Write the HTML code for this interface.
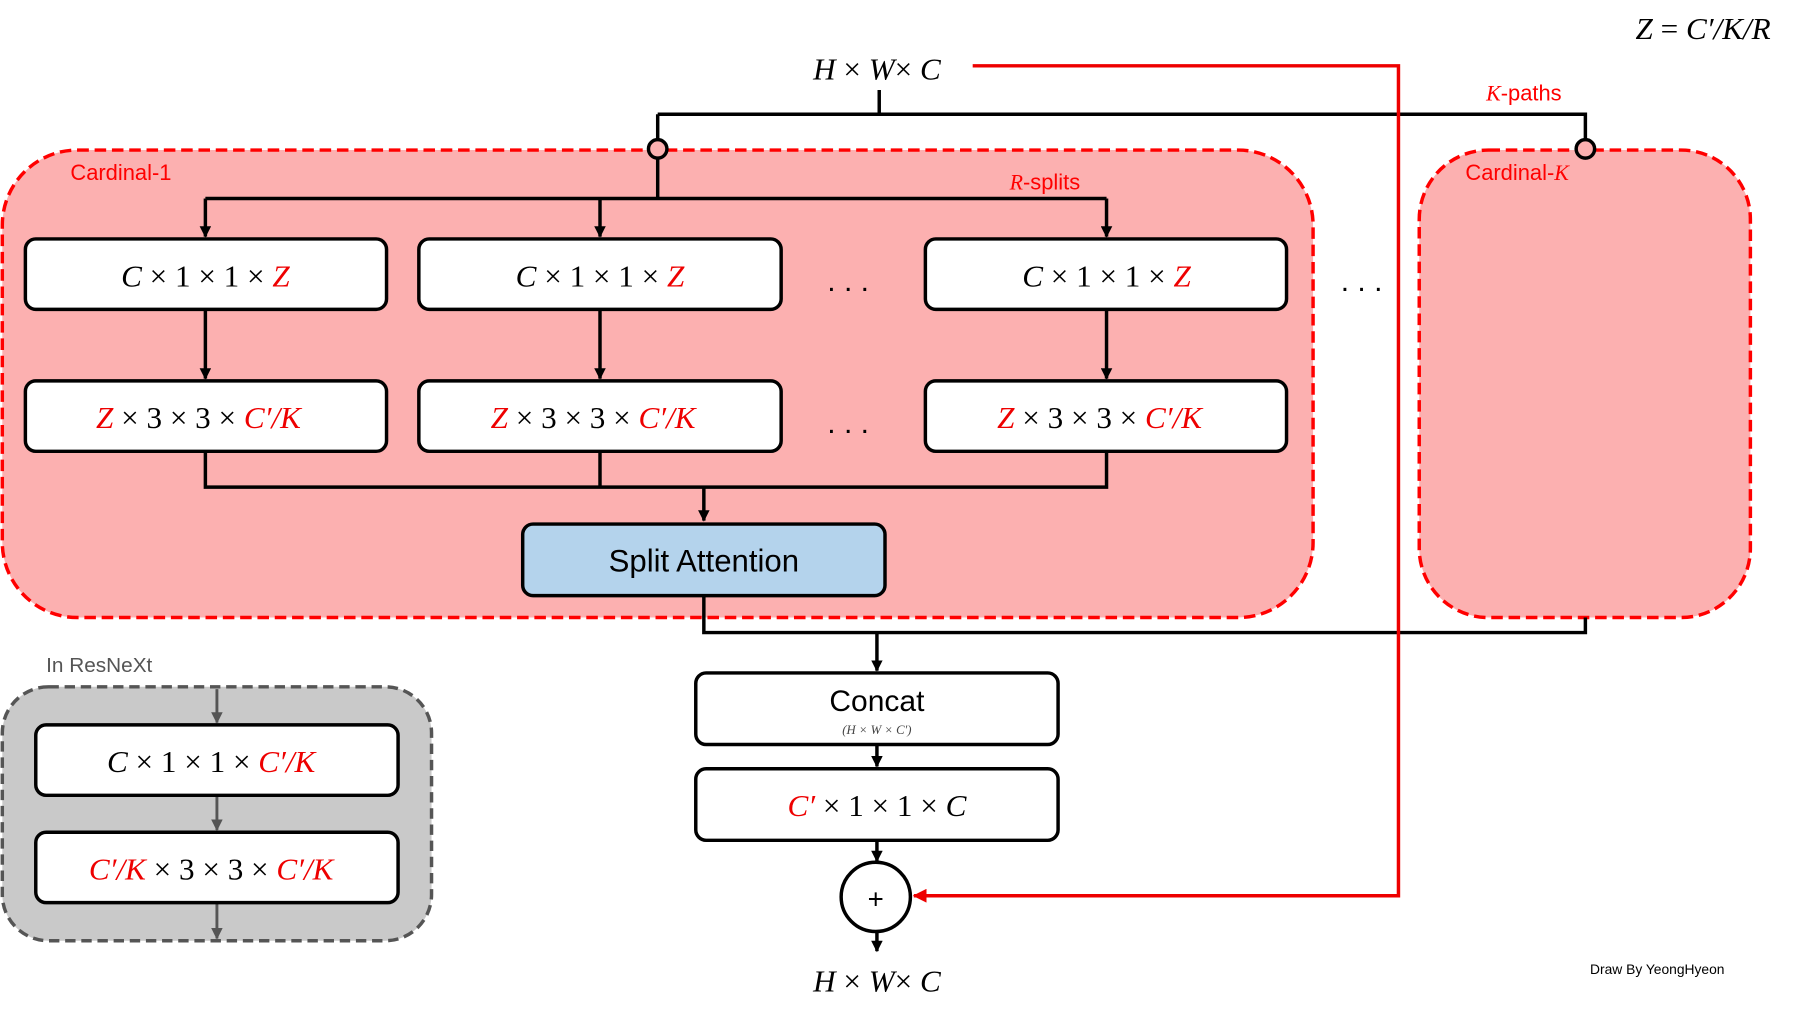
<!DOCTYPE html>
<html><head><meta charset="utf-8"><style>
html,body{margin:0;padding:0;background:#fff;}
svg{display:block}
.m{font-family:"Liberation Serif",serif;font-style:italic;}
.n{font-family:"Liberation Serif",serif;font-style:normal;}
.s{font-family:"Liberation Sans",sans-serif;}
</style></head><body>
<svg width="1800" height="1010" viewBox="0 0 1560 875" preserveAspectRatio="none" xmlns="http://www.w3.org/2000/svg">
<defs>
<marker id="a" markerWidth="10" markerHeight="10" refX="5" refY="8" orient="auto" markerUnits="userSpaceOnUse" viewBox="0 0 10 10"><path d="M0,0 L10,0 L5,10 z" fill="#000" transform="rotate(0)"/></marker>
<marker id="ad" markerWidth="10" markerHeight="10" refX="9" refY="5" orient="auto" markerUnits="userSpaceOnUse" viewBox="0 0 10 10"><path d="M0,0 L10,5 L0,10 z" fill="#000"/></marker>
<marker id="ag" markerWidth="10" markerHeight="10" refX="9" refY="5" orient="auto" markerUnits="userSpaceOnUse" viewBox="0 0 10 10"><path d="M0,0 L10,5 L0,10 z" fill="#555"/></marker>
<marker id="ar" markerWidth="12" markerHeight="12" refX="11" refY="6" orient="auto" markerUnits="userSpaceOnUse" viewBox="0 0 12 12"><path d="M0,0 L12,6 L0,12 z" fill="#e00"/></marker>
</defs>

<!-- cardinal boxes -->
<rect x="2" y="130" width="1136" height="405" rx="65" fill="#fcb0b0" stroke="#f00" stroke-width="3" stroke-dasharray="10,5"/>
<rect x="1230" y="130" width="287" height="405" rx="60" fill="#fcb0b0" stroke="#f00" stroke-width="3" stroke-dasharray="10,5"/>
<text x="61" y="156" class="s" font-size="19" fill="#f00">Cardinal-1</text>
<text x="1270" y="156" class="s" font-size="19" fill="#f00">Cardinal-<tspan class="m">K</tspan></text>
<text x="875" y="164" class="s" font-size="19" fill="#f00"><tspan class="m">R</tspan>-splits</text>
<text x="1288" y="87" class="s" font-size="19" fill="#f00"><tspan class="m">K</tspan>-paths</text>

<!-- top connectors -->
<g stroke="#000" stroke-width="3" fill="none">
<path d="M762,78 V99 M570,99 H1374 V121 M570,99 V121 M570,137 V172 M178,172 H959"/>
<path d="M178,172 V205" marker-end="url(#ad)"/>
<path d="M520,172 V205" marker-end="url(#ad)"/>
<path d="M959,172 V205" marker-end="url(#ad)"/>
<path d="M178,268 V328" marker-end="url(#ad)"/>
<path d="M520,268 V328" marker-end="url(#ad)"/>
<path d="M959,268 V328" marker-end="url(#ad)"/>
<path d="M178,391 V422 H959 V391 M520,391 V422"/>
<path d="M610,422 V451" marker-end="url(#ad)"/>
<path d="M610,516 V548 H1374 V535"/>
<path d="M760,548 V581" marker-end="url(#ad)"/>
<path d="M760,645 V664" marker-end="url(#ad)"/>
<path d="M760,728 V746" marker-end="url(#ad)"/>
<path d="M760,807 V824" marker-end="url(#ad)"/>
</g>
<circle cx="570" cy="129" r="8" fill="#fcb0b0" stroke="#000" stroke-width="3"/>
<circle cx="1374" cy="129" r="8" fill="#fcb0b0" stroke="#000" stroke-width="3"/>

<!-- red skip -->
<path d="M843,57 H1212 V776 H792" stroke="#e00" stroke-width="3" fill="none" marker-end="url(#ar)"/>

<!-- boxes -->
<g fill="#fff" stroke="#000" stroke-width="3">
<rect x="22" y="207" width="313" height="61" rx="9"/>
<rect x="363" y="207" width="314" height="61" rx="9"/>
<rect x="802" y="207" width="313" height="61" rx="9"/>
<rect x="22" y="330" width="313" height="61" rx="9"/>
<rect x="363" y="330" width="314" height="61" rx="9"/>
<rect x="802" y="330" width="313" height="61" rx="9"/>
<rect x="453" y="454" width="314" height="62" rx="9" fill="#b4d3ec"/>
<rect x="603" y="583" width="314" height="62" rx="9"/>
<rect x="603" y="666" width="314" height="62" rx="9"/>
<circle cx="759" cy="777" r="30"/>
</g>

<g font-size="27" text-anchor="middle">
<text x="178" y="248" class="m">C <tspan class="n">× 1 × 1 ×</tspan> <tspan fill="#e00">Z</tspan></text>
<text x="520" y="248" class="m">C <tspan class="n">× 1 × 1 ×</tspan> <tspan fill="#e00">Z</tspan></text>
<text x="959" y="248" class="m">C <tspan class="n">× 1 × 1 ×</tspan> <tspan fill="#e00">Z</tspan></text>
<text x="172" y="371" class="m"><tspan fill="#e00">Z</tspan> <tspan class="n">× 3 × 3 ×</tspan> <tspan fill="#e00">C′/K</tspan></text>
<text x="514" y="371" class="m"><tspan fill="#e00">Z</tspan> <tspan class="n">× 3 × 3 ×</tspan> <tspan fill="#e00">C′/K</tspan></text>
<text x="953" y="371" class="m"><tspan fill="#e00">Z</tspan> <tspan class="n">× 3 × 3 ×</tspan> <tspan fill="#e00">C′/K</tspan></text>
<text x="610" y="495" class="s" font-size="27">Split Attention</text>
<text x="760" y="616" class="s" font-size="26">Concat</text>
<text x="760" y="707" class="m"><tspan fill="#e00">C′</tspan> <tspan class="n">× 1 × 1 ×</tspan> C</text>
<text x="759" y="787" class="s" font-size="24">+</text>
<text x="760" y="69" class="m">H <tspan class="n">×</tspan> W<tspan class="n">×</tspan> C</text>
<text x="760" y="859" class="m">H <tspan class="n">×</tspan> W<tspan class="n">×</tspan> C</text>
</g>
<text x="760" y="636" class="m" font-size="11" text-anchor="middle" fill="#444">(H × W × C′)</text>
<text x="1476" y="34" class="m" font-size="27" text-anchor="middle">Z <tspan class="n">=</tspan> C′/K/R</text>

<g font-size="26" class="s">
<text x="717" y="252">. . .</text>
<text x="717" y="375">. . .</text>
<text x="1162" y="252">. . .</text>
</g>

<!-- ResNeXt -->
<text x="40" y="582" class="s" font-size="18" fill="#555">In ResNeXt</text>
<rect x="2" y="595" width="372" height="220" rx="40" fill="#c9c9c9" stroke="#555" stroke-width="3" stroke-dasharray="9,5"/>
<g stroke="#555" stroke-width="2.5" fill="none">
<path d="M188,597 V626" marker-end="url(#ag)"/>
<path d="M188,689 V719" marker-end="url(#ag)"/>
<path d="M188,782 V813" marker-end="url(#ag)"/>
</g>
<g fill="#fff" stroke="#000" stroke-width="3">
<rect x="31" y="628" width="314" height="61" rx="9"/>
<rect x="31" y="721" width="314" height="61" rx="9"/>
</g>
<g font-size="27" text-anchor="middle">
<text x="183" y="669" class="m">C <tspan class="n">× 1 × 1 ×</tspan> <tspan fill="#e00">C′/K</tspan></text>
<text x="183" y="762" class="m"><tspan fill="#e00">C′/K</tspan> <tspan class="n">× 3 × 3 ×</tspan> <tspan fill="#e00">C′/K</tspan></text>
</g>

<text x="1378" y="844" class="s" font-size="12">Draw By YeongHyeon</text>
</svg>
</body></html>
